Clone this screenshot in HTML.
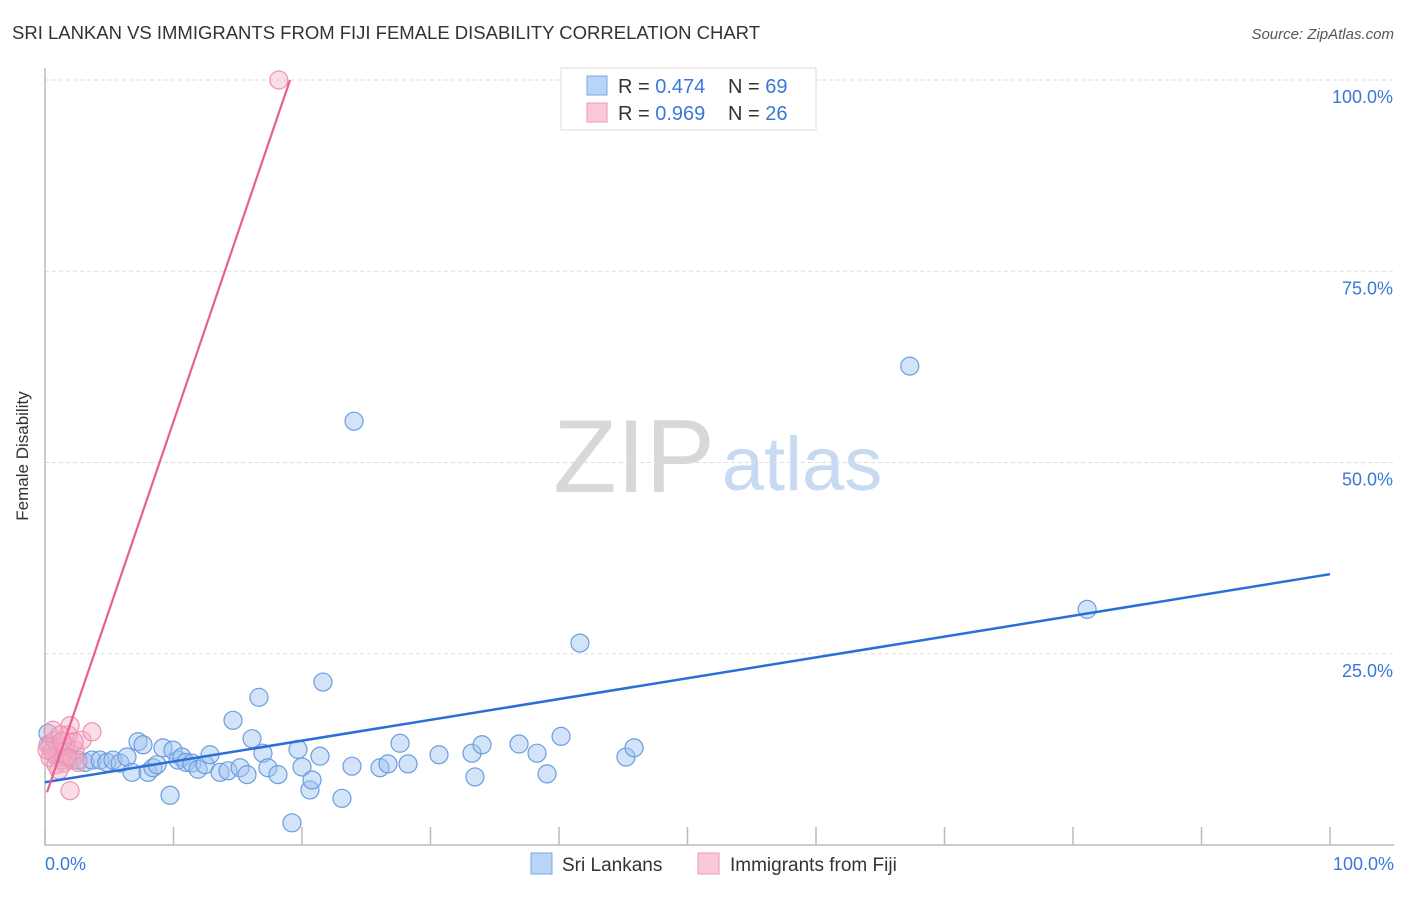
<!DOCTYPE html>
<html><head><meta charset="utf-8">
<style>
body{margin:0;background:#fff;font-family:"Liberation Sans",sans-serif;}
svg text{font-family:"Liberation Sans",sans-serif;}
</style></head>
<body>
<svg id="chart" width="1406" height="892" viewBox="0 0 1406 892" xmlns="http://www.w3.org/2000/svg">
<text x="12" y="39" font-size="18.5" fill="#333" textLength="748">SRI LANKAN VS IMMIGRANTS FROM FIJI FEMALE DISABILITY CORRELATION CHART</text>
<text x="1394" y="39" font-size="15" fill="#555" font-style="italic" text-anchor="end">Source: ZipAtlas.com</text>
<text x="28" y="456" font-size="17" fill="#333" transform="rotate(-90 28 456)" text-anchor="middle">Female Disability</text>
<g>
<text x="634" y="492" font-size="104" fill="#d8d8d8" font-family="Liberation Serif,serif" text-anchor="middle">ZIP</text>
<text x="802" y="490" font-size="76" fill="#c8daf2" text-anchor="middle">atlas</text>
</g>
<g id="grid"></g>
<g id="axes"></g>
<g id="marks"></g>
<g>
<rect x="561" y="68" width="255" height="62" fill="#fff" stroke="#ddd"/>
<rect x="587" y="76" width="20" height="19" fill="#b8d4f6" stroke="#7aa8e6"/>
<rect x="587" y="103" width="20" height="19" fill="#fbc8d8" stroke="#ee9ab6"/>
<text x="618" y="93" font-size="20" fill="#333">R = <tspan fill="#3a78d8">0.474</tspan><tspan x="728">N = </tspan><tspan fill="#3a78d8">69</tspan></text>
<text x="618" y="120" font-size="20" fill="#333">R = <tspan fill="#3a78d8">0.969</tspan><tspan x="728">N = </tspan><tspan fill="#3a78d8">26</tspan></text>
</g>
<g>
<rect x="531" y="853" width="21" height="21" fill="#b8d4f6" stroke="#7aa8e6"/>
<text x="562" y="871" font-size="19" fill="#333">Sri Lankans</text>
<rect x="698" y="853" width="21" height="21" fill="#fbc8d8" stroke="#ee9ab6"/>
<text x="730" y="871" font-size="19" fill="#333">Immigrants from Fiji</text>
</g>
</svg>
<script>
const yTicks=[25,50,75,100];
const yTickLabels=["25.0%","50.0%","75.0%","100.0%"];
const xTicks=[0,10,20,30,40,50,60,70,80,90,100];
const blueX=[0.23,0.39,0.78,1.0,1.32,1.6,1.95,2.57,3.11,3.66,4.28,4.82,5.29,5.84,6.38,6.77,7.24,7.63,8.02,8.40,8.72,9.18,9.73,9.96,10.35,10.66,10.97,11.44,11.91,12.45,12.84,13.62,14.24,14.63,15.18,15.72,16.11,16.65,16.96,17.35,18.13,19.22,19.69,20.0,20.62,20.78,21.40,21.63,23.11,23.89,24.05,26.07,26.69,27.63,28.25,30.66,33.23,33.46,34.01,36.89,38.29,39.07,40.16,41.63,45.21,45.84,67.3,81.1];
const blueY=[14.6,13.1,11.8,12.7,11.5,12.2,11.4,11.1,10.8,11.1,11.1,10.8,11.1,10.7,11.5,9.5,13.5,13.1,9.5,10.1,10.5,12.7,6.5,12.4,11.1,11.5,10.8,10.7,9.9,10.5,11.8,9.5,9.7,16.3,10.1,9.2,13.9,19.3,12.0,10.1,9.2,2.9,12.5,10.2,7.2,8.5,11.6,21.3,6.1,10.3,55.4,10.1,10.6,13.3,10.6,11.8,12.0,8.9,13.1,13.2,12.0,9.3,14.2,26.4,11.5,12.7,62.6,30.8];
const pinkX=[18.2,0.23,0.54,0.78,1.0,1.17,1.4,1.63,1.79,1.95,2.1,2.33,2.57,2.88,3.66,1.95,0.39,0.62,0.86,1.17,1.48,1.71,2.26,0.16,1.32,1.09];
const pinkY=[100,13.1,12.2,13.7,11.8,12.7,11.1,13.1,14.4,15.6,11.1,12.4,10.8,13.7,14.8,7.1,11.4,15.0,10.5,14.4,10.7,11.5,13.5,12.4,13.5,9.8];
const blueLine=[8.2,35.4];
const pinkLine=[6.9,0.16,100,19.07];
const X=v=>45+v*12.85, Y=v=>845-v*7.65;
const NS="http://www.w3.org/2000/svg";
function mk(tag,attrs,parent){const e=document.createElementNS(NS,tag);for(const k in attrs)e.setAttribute(k,attrs[k]);parent.appendChild(e);return e;}
const grid=document.getElementById('grid'),axes=document.getElementById('axes'),marks=document.getElementById('marks');
yTicks.forEach((t,i)=>{
 const l=mk('line',{x1:45,x2:1394,y1:Y(t),y2:Y(t),stroke:'#ddd','stroke-dasharray':'4,3'},grid);
 
 
 const tx=mk('text',{x:1393,y:Y(t)+23,'font-size':18,fill:'#3a78d8','text-anchor':'end'},axes);
 tx.textContent=yTickLabels[i];
 
 
});
const ax=mk('path',{d:'M45 68 V845 H1394',fill:'none',stroke:'#bbb','stroke-width':1.5},axes);


xTicks.forEach(t=>{
 const l=mk('line',{x1:X(t),x2:X(t),y1:827,y2:845,stroke:'#bbb','stroke-width':1.5},axes);
 
 
});
[[0,'0.0%','start',45],[100,'100.0%','end',1394]].forEach(a=>{
 const tx=mk('text',{x:a[3],y:870,'font-size':18,fill:'#3a78d8','text-anchor':a[2]},axes);
 tx.textContent=a[1];
 
 
});
blueX.forEach((x,i)=>{
 const c=mk('circle',{cx:X(x),cy:Y(blueY[i]),r:9,fill:'rgba(160,196,240,0.45)',stroke:'#6a9de0','stroke-width':1.2},marks);
 
 
});
pinkX.forEach((x,i)=>{
 const c=mk('circle',{cx:X(x),cy:Y(pinkY[i]),r:9,fill:'rgba(245,170,195,0.4)',stroke:'#ec92b2','stroke-width':1.2},marks);
 
 
});
const bl=mk('line',{x1:X(0),y1:Y(blueLine[0]),x2:X(100),y2:Y(blueLine[1]),stroke:'#2a6fd8','stroke-width':2.5},marks);


const pl=mk('line',{x1:X(pinkLine[1]),y1:Y(pinkLine[0]),x2:X(pinkLine[3]),y2:Y(pinkLine[2]),stroke:'#e8608e','stroke-width':2.2},marks);


</script>
</body></html>
